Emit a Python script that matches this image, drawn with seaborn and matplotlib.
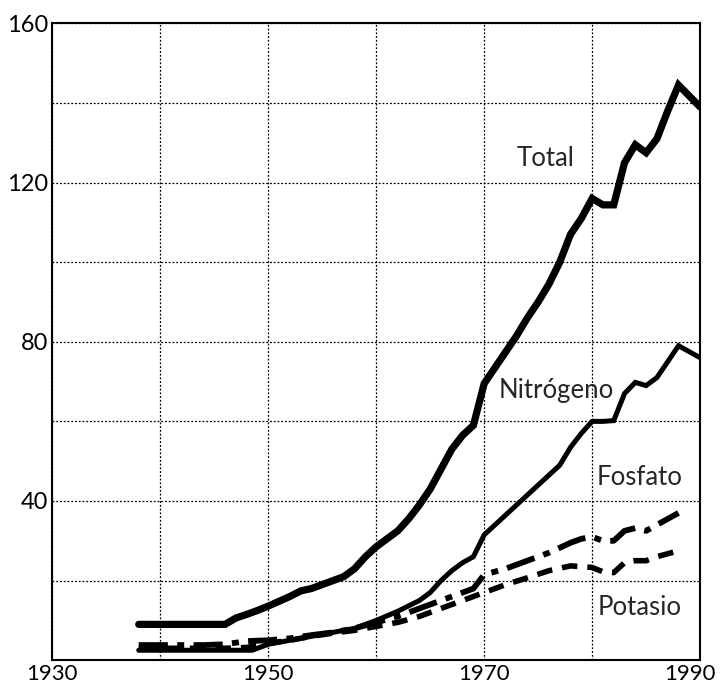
import pandas as pd
import matplotlib.pyplot as plt
import matplotlib.transforms as mtrans
import seaborn as sns

# datos (millones de toneladas)
anios_total = [1938, 1940, 1942, 1944, 1946, 1947, 1948, 1949, 1950, 1951, 1952, 1953,
               1954, 1955, 1956, 1957, 1958, 1959, 1960, 1961, 1962, 1963, 1964, 1965,
               1966, 1967, 1968, 1969, 1970, 1971, 1972, 1973, 1974, 1975, 1976, 1977,
               1978, 1979, 1980, 1981, 1982, 1983, 1984, 1985, 1986, 1987, 1988, 1990]
total = [9, 9, 9, 9, 9, 10.6, 11.5, 12.5, 13.6, 14.8, 16, 17.4,
         18, 19, 20, 21, 23, 26, 28.5, 30.5, 32.5, 35.5, 39, 43,
         48, 53, 56.5, 59, 69.5, 73.5, 77.5, 81.5, 86, 90, 94.5, 100,
         107, 111, 116, 114.4, 114.4, 125, 129.5, 127.5, 131, 138, 144.5, 139]

anios_nitro = [1938, 1946, 1948.5, 1950, 1952, 1954, 1956, 1958, 1960, 1962, 1964, 1965,
               1966, 1967, 1968, 1969, 1970, 1971, 1972, 1973, 1974, 1975, 1976, 1977,
               1978, 1979, 1980, 1981, 1982, 1983, 1984, 1985, 1986, 1987, 1988, 1990]
nitrogeno = [2.5, 2.5, 2.5, 4, 5, 6, 7, 8, 10, 12.3, 15, 17,
             20, 22.5, 24.5, 26, 31.5, 34, 36.5, 39, 41.5, 44, 46.5, 49,
             53.5, 57, 60, 60, 60.2, 67, 69.8, 69, 71, 75, 79, 76]

anios_fosf = [1938, 1944, 1946, 1948, 1950, 1952, 1954, 1956, 1958, 1960, 1962, 1964,
              1966, 1968, 1969, 1970, 1972, 1974, 1976, 1978, 1979, 1980, 1981, 1982,
              1983, 1984, 1985, 1986, 1987, 1988]
fosfato = [3.8, 3.8, 4, 4.8, 5, 5.5, 6.3, 7, 8, 9.5, 11, 13,
           15, 17, 18, 21.5, 23, 25, 27, 29.5, 30.5, 31, 30, 30,
           32.5, 33.2, 32.5, 34, 35.5, 37]

anios_pot = [1938, 1946, 1948, 1950, 1952, 1954, 1956, 1958, 1960, 1962, 1964, 1966,
             1968, 1970, 1972, 1974, 1976, 1978, 1980, 1981, 1982, 1983, 1984, 1985,
             1986, 1988]
potasio = [3, 3, 3.2, 4.3, 5, 6, 6.8, 7.5, 8.5, 9.5, 11, 13,
           15, 17, 19, 20.7, 22.5, 23.7, 23.3, 22.2, 22, 24.5, 25, 25,
           26, 27.5]

x_ticks = [1930, 1940, 1950, 1960, 1970, 1980, 1990]
x_etiquetas = ["1930", "", "1950", "", "1970", "", "1990"]
y_ticks = [0, 20, 40, 60, 80, 100, 120, 140, 160]
y_etiquetas = ["", "", "40", "", "80", "", "120", "", "160"]

sns.set_theme(style="white")
plt.rcParams['font.family'] = ['Lato', 'DejaVu Sans']

fig = plt.figure(figsize=(7.27, 6.87), dpi=100)
ax = fig.add_axes([0.072, 0.039, 0.891, 0.927])

series = [
    (anios_total, total, dict(lw=5.2, linestyle='-')),
    (anios_nitro, nitrogeno, dict(lw=3.6, linestyle='-')),
    (anios_fosf, fosfato, dict(lw=4.2, dashes=(5, 1.6, 1.2, 1.6))),
    (anios_pot, potasio, dict(lw=4.0, dashes=(2.8, 1.8))),
]
for xs, ys, estilo in series:
    df = pd.DataFrame({'anio': xs, 'valor': ys})
    sns.lineplot(data=df, x='anio', y='valor', color='black', ax=ax,
                 solid_joinstyle='miter', **estilo)

ax.set_xlim(1930, 1990)
ax.set_ylim(0, 160)
ax.set_xticks(x_ticks)
ax.set_xticklabels(x_etiquetas)
ax.set_yticks(y_ticks)
ax.set_yticklabels(y_etiquetas)
ax.tick_params(length=0, colors='black')
ax.tick_params(axis='x', pad=3, labelsize=16)
ax.tick_params(axis='y', pad=3, labelsize=17)
ax.set_xlabel("")
ax.set_ylabel("")
ax.grid(True, color='black', linestyle=(0, (1.5, 1.5)), linewidth=0.9)
for s in ax.spines.values():
    s.set_color('black')
    s.set_linewidth(1.5)

# la etiqueta 1990 va un poco a la izquierda para que quepa
ultima = ax.get_xticklabels()[-1]
ultima.set_transform(ultima.get_transform() +
                     mtrans.ScaledTranslation(-0.1, 0, fig.dpi_scale_trans))

ax.text(1975.7, 126, "Total", fontsize=18.5, ha='center', va='center')
ax.text(1976.7, 67.8, "Nitrógeno", fontsize=18.5, ha='center', va='center')
ax.text(1984.4, 46, "Fosfato", fontsize=18.5, ha='center', va='center')
ax.text(1984.4, 13.3, "Potasio", fontsize=18.5, ha='center', va='center')

fig.savefig("out.png", dpi=100)
